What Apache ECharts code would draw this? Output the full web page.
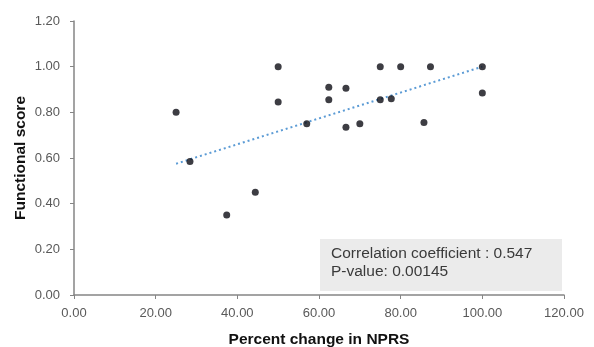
<!DOCTYPE html>
<html>
<head>
<meta charset="utf-8">
<script src="https://cdn.jsdelivr.net/npm/echarts@6/dist/echarts.min.js"></script>
<style>
html,body{margin:0;padding:0;background:#fff;}
#chart{width:594px;height:347px;}
</style>
</head>
<body>
<div id="chart"></div>
<script>
var pointsX = [25, 28.4, 37.4, 44.4, 50, 50, 57, 62.4, 62.4, 66.6, 66.6, 70, 75, 75, 77.7, 80, 85.7, 87.3, 100, 100];
var pointsY = [0.80, 0.585, 0.35, 0.45, 1.00, 0.845, 0.75, 0.91, 0.855, 0.905, 0.735, 0.75, 1.00, 0.855, 0.86, 1.00, 0.755, 1.00, 1.00, 0.885];
var trendX = [25, 100];
var trendY = [0.575, 1.00];
var xTicks = [0, 20, 40, 60, 80, 100, 120];
var yTicks = [0, 0.2, 0.4, 0.6, 0.8, 1.0, 1.2];
var xTitle = 'Percent change in NPRS';
var yTitle = 'Functional score';
var noteLines = ['Correlation coefficient : 0.547', 'P-value: 0.00145'];

var chart = echarts.init(document.getElementById('chart'));
var axisColor = '#858585';
var labelColor = '#595959';
chart.setOption({
  animation: false,
  grid: {left: 74, right: 30, top: 21, bottom: 52, containLabel: false, outerBoundsMode: 'none'},
  xAxis: {
    type: 'value', min: xTicks[0], max: xTicks[xTicks.length - 1], interval: 20,
    name: xTitle, nameLocation: 'middle', nameGap: 37, nameMoveOverlap: false,
    nameTextStyle: {fontFamily: 'Liberation Sans', fontWeight: 'bold', fontSize: 15.5, color: '#111'},
    axisLine: {lineStyle: {color: axisColor, width: 1.5}},
    axisTick: {show: true, inside: false, length: 4, lineStyle: {color: axisColor}},
    axisLabel: {margin: 12, fontFamily: 'Liberation Sans', fontSize: 13, color: labelColor,
      formatter: function (v) { return v.toFixed(2); }},
    splitLine: {show: false}
  },
  yAxis: {
    type: 'value', min: yTicks[0], max: yTicks[yTicks.length - 1], interval: 0.2,
    name: yTitle, nameLocation: 'middle', nameGap: 45, nameMoveOverlap: false,
    nameTextStyle: {fontFamily: 'Liberation Sans', fontWeight: 'bold', fontSize: 15.5, color: '#111'},
    axisLine: {show: true, lineStyle: {color: axisColor, width: 1.5}},
    axisTick: {show: true, inside: false, length: 4, lineStyle: {color: axisColor}},
    axisLabel: {margin: 14, fontFamily: 'Liberation Sans', fontSize: 13, color: labelColor,
      formatter: function (v) { return v.toFixed(2); }},
    splitLine: {show: false}
  },
  series: [
    {
      type: 'line',
      data: trendX.map(function (x, i) { return [x, trendY[i]]; }),
      symbol: 'none',
      lineStyle: {color: '#5b9bd5', width: 2, type: [2, 3]},
      z: 1
    },
    {
      type: 'scatter',
      data: pointsX.map(function (x, i) { return [x, pointsY[i]]; }),
      symbol: 'circle',
      symbolSize: 7,
      itemStyle: {color: '#0d0d14'},
      z: 3
    }
  ],
  graphic: [
    {type: 'rect', left: 320, top: 239, shape: {width: 242, height: 52}, style: {fill: '#ebebeb'}, z: 0},
    {type: 'text', left: 331, top: 245, style: {text: noteLines.join('\n'), font: '15.5px "Liberation Sans"', fill: '#3a3a3a', lineHeight: 18}, z: 5}
  ]
});
</script>
</body>
</html>
